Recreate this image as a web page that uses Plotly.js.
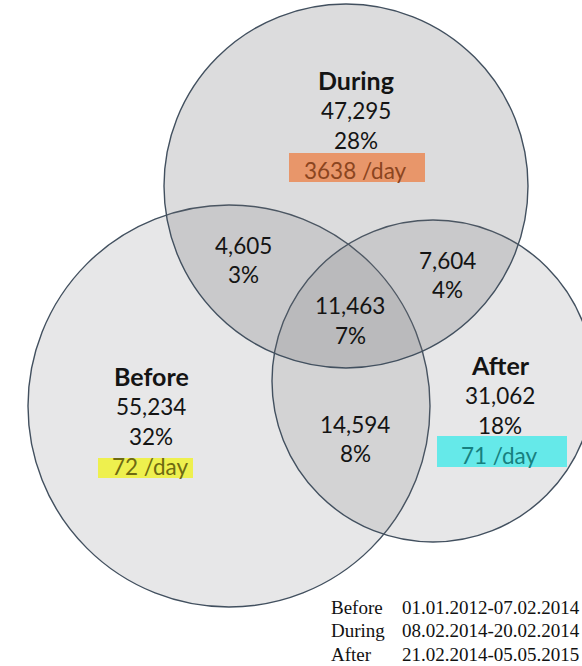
<!DOCTYPE html>
<html>
<head>
<meta charset="utf-8">
<script src="https://cdn.plot.ly/plotly-3.0.1.min.js"></script>
<style>html,body{margin:0;padding:0;background:#fff;}#chart{width:582px;height:666px;}</style>
</head>
<body>
<div id="chart"></div>
<script>
// ---- data ----
const setNames = ['Before', 'During', 'After'];
const setCounts = [55234, 47295, 31062];
const setPercents = [32, 28, 18];
const perDay = [72, 3638, 71];
const pairNames = ['Before & During', 'During & After', 'Before & After'];
const pairCounts = [4605, 7604, 14594];
const pairPercents = [3, 4, 8];
const tripleCount = 11463;
const triplePercent = 7;
const periodNames = ['Before', 'During', 'After'];
const periodRanges = ['01.01.2012-07.02.2014', '08.02.2014-20.02.2014', '21.02.2014-05.05.2015'];

// ---- layout geometry (pixel space) ----
const circles = {
  Before: {cx: 229, cy: 406, r: 201, fill: 'rgba(105,106,110,0.16)'},
  After:  {cx: 433, cy: 381, r: 161, fill: 'rgba(105,106,110,0.16)'},
  During: {cx: 346, cy: 186, r: 182, fill: 'rgba(105,106,110,0.235)'}
};
const setLabelPos = {Before: [151, 376], During: [356, 80], After: [500, 365]};
const pairLabelPos = [[243, 245], [447, 260], [355, 424]];
const tripleLabelPos = [350, 305];
const hl = {
  Before: {x0: 98, x1: 193, y0: 458, y1: 478, fill: 'rgba(238,240,70,0.95)', text: '#6e6a12'},
  During: {x0: 289, x1: 425, y0: 153, y1: 182, fill: 'rgba(232,148,102,0.97)', text: '#8b4520'},
  After:  {x0: 437, x1: 567, y0: 436, y1: 467, fill: 'rgba(96,232,232,0.97)', text: '#17807f'}
};
const lineGap = 30;
const FONT = 'Lato, "Open Sans", sans-serif';
const fmt = n => n.toLocaleString('en-US');

const shapes = [];
['Before', 'After', 'During'].forEach(k => {
  const c = circles[k];
  shapes.push({type: 'circle', xref: 'x', yref: 'y', x0: c.cx - c.r, x1: c.cx + c.r,
    y0: c.cy - c.r, y1: c.cy + c.r, fillcolor: c.fill, line: {color: '#42505f', width: 1.4}, layer: 'above'});
});
setNames.forEach(k => {
  const h = hl[k];
  shapes.push({type: 'rect', xref: 'x', yref: 'y', x0: h.x0, x1: h.x1, y0: h.y0, y1: h.y1,
    fillcolor: h.fill, line: {width: 0}, layer: 'above'});
});

const ann = [];
function txt(x, y, text, opts) {
  opts = opts || {};
  ann.push({xref: 'x', yref: 'y', x: x, y: y, text: text, showarrow: false,
    xanchor: opts.xanchor || 'center', yanchor: 'middle',
    font: {family: opts.family || FONT, size: opts.size || 22.5, color: opts.color || '#141414'}});
}
setNames.forEach((k, i) => {
  const [x, y] = setLabelPos[k];
  txt(x, y, '<b>' + k + '</b>', {size: 25});
  txt(x, y + lineGap, fmt(setCounts[i]));
  txt(x, y + 2 * lineGap, setPercents[i] + '%');
  txt(x - 1, y + 3 * lineGap, perDay[i] + ' /day', {color: hl[k].text});
});
pairNames.forEach((p, i) => {
  const [x, y] = pairLabelPos[i];
  txt(x, y, fmt(pairCounts[i]));
  txt(x, y + 29, pairPercents[i] + '%');
});
txt(tripleLabelPos[0], tripleLabelPos[1], fmt(tripleCount));
txt(tripleLabelPos[0], tripleLabelPos[1] + 30, triplePercent + '%');

periodNames.forEach((p, i) => {
  const y = 607 + i * 23.5;
  const serif = '"Liberation Serif", "Times New Roman", serif';
  txt(329, y, p, {xanchor: 'left', family: serif, size: 19, color: '#111'});
  txt(400, y, periodRanges[i], {xanchor: 'left', family: serif, size: 19, color: '#111'});
});

const layout = {
  width: 582, height: 666,
  margin: {l: 0, r: 0, t: 0, b: 0},
  paper_bgcolor: '#ffffff', plot_bgcolor: '#ffffff',
  xaxis: {range: [0, 582], visible: false, fixedrange: true},
  yaxis: {range: [666, 0], visible: false, fixedrange: true},
  showlegend: false,
  shapes: shapes,
  annotations: ann
};
Plotly.newPlot('chart', [{x: [], y: [], type: 'scatter', mode: 'markers'}], layout, {displayModeBar: false, staticPlot: true});
</script>
</body>
</html>
